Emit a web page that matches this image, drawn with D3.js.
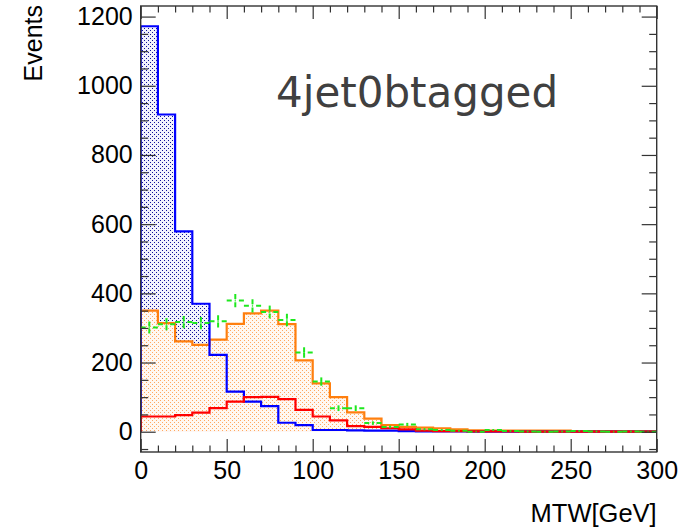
<!DOCTYPE html>
<html>
<head>
<meta charset="utf-8">
<script src="https://cdn.jsdelivr.net/npm/d3@7"></script>
<style>
  body { margin: 0; background: #fff; }
  svg { display: block; }
  text { font-family: "Liberation Sans", Arial, Helvetica, sans-serif; }
</style>
</head>
<body>
<svg id="chart" width="696" height="528"></svg>
<script>
// Lower edges of the 10 GeV MTW bins
const binLow = [0, 10, 20, 30, 40, 50, 60, 70, 80, 90,
                100, 110, 120, 130, 140, 150, 160, 170, 180, 190,
                200, 210, 220, 230, 240, 250, 260, 270, 280, 290];

// Blue filled histogram
const wjets = [1172, 917, 579, 370, 222, 116, 87, 74, 26, 19,
               5, 5, 4, 3, 3, 2, 1, 1, 1, 0.5,
               0.5, 0.5, 0.3, 0.3, 0.3, 0.2, 0.2, 0.2, 0.1, 0.1];
// Orange filled histogram
const ttbar = [350, 314, 261, 251, 266, 312, 342, 350, 311, 206,
               140, 100, 56, 38, 19, 14, 12, 10, 7, 4,
               3, 3, 3, 3, 3, 2, 2, 2, 2, 2];
// Red outline histogram
const singleTop = [44, 44, 48, 55, 68, 87, 100, 101, 94, 63,
                   44, 33, 16, 14, 10, 7, 3, 2, 1.5, 1,
                   1, 1, 0.5, 0.5, 0.5, 0.5, 0.3, 0.3, 0.3, 0.3];
// Green data points
const data = [301, 311, 317, 314, 319, 379, 364, 346, 323, 229,
              145, 68, 68, 25, 14, 21, 7, 5, 3, 0,
              5, 2, 1, 0, 1, 2, 1, 0, 1, 0];

const xTicks = [0, 50, 100, 150, 200, 250, 300];
const xMinorTicks = [10, 20, 30, 40, 60, 70, 80, 90, 110, 120, 130, 140, 160, 170, 180, 190,
                     210, 220, 230, 240, 260, 270, 280, 290];
const yTicks = [0, 200, 400, 600, 800, 1000, 1200];
const yMinorTicks = [-50, 50, 100, 150, 250, 300, 350, 450, 500, 550, 650, 700, 750,
                     850, 900, 950, 1050, 1100, 1150];

const xDomain = [0, 300];
const yDomain = [-58.6, 1230.6];

const plot = { left: 140.7, right: 656.7, top: 6, bottom: 452 };

const svg = d3.select("#chart");
const x = d3.scaleLinear(xDomain, [plot.left, plot.right]);
const y = d3.scaleLinear(yDomain, [plot.bottom, plot.top]);
const binWidth = binLow[1] - binLow[0];

const defs = svg.append("defs");
defs.append("clipPath").attr("id", "plotClip")
  .append("rect")
  .attr("x", plot.left).attr("y", plot.top)
  .attr("width", plot.right - plot.left).attr("height", plot.bottom - plot.top);

// Sparse dotted fill styles
function dotPattern(id, color, bg, dots) {
  const p = defs.append("pattern").attr("id", id)
    .attr("patternUnits", "userSpaceOnUse")
    .attr("width", 4).attr("height", 4);
  p.append("rect").attr("width", 4).attr("height", 4).attr("fill", bg);
  dots.forEach(([a, b]) =>
    p.append("rect").attr("x", a).attr("y", b).attr("width", 1).attr("height", 1).attr("fill", color));
}
dotPattern("dotsBlue", "#10109a", "#f2f2fd", [[0, 0], [2, 2]]);
dotPattern("dotsOrange", "#ffa860", "#fff8f2", [[0, 0], [2, 2]]);

function stepPoints(vals) {
  const pts = [[binLow[0], 0]];
  vals.forEach((v, i) => {
    pts.push([binLow[i], v]);
    pts.push([binLow[i] + binWidth, v]);
  });
  pts.push([binLow[binLow.length - 1] + binWidth, 0]);
  return pts;
}
const line = d3.line().x(d => x(d[0])).y(d => y(d[1]));

const g = svg.append("g").attr("clip-path", "url(#plotClip)");

// Fills
g.append("path").attr("d", line(stepPoints(wjets)) + "Z").attr("fill", "url(#dotsBlue)");
g.append("path").attr("d", line(stepPoints(ttbar)) + "Z").attr("fill", "url(#dotsOrange)");

// Outlines
[[ttbar, "#ff7f0e"], [wjets, "#0000ff"], [singleTop, "#ff0000"]].forEach(([vals, col]) => {
  g.append("path").attr("d", line(stepPoints(vals)))
    .attr("fill", "none").attr("stroke", col).attr("stroke-width", 2.2)
    .attr("stroke-linejoin", "miter");
});

// Data points with error bars
const pts = g.append("g").attr("stroke", "#1ee81e").attr("stroke-width", 2)
  .attr("stroke-dasharray", "5,3").attr("fill", "none");
data.forEach((v, i) => {
  const cx = x(binLow[i] + binWidth / 2);
  const cy = y(v);
  const err = Math.sqrt(v);
  pts.append("line").attr("x1", x(binLow[i])).attr("x2", cx).attr("y1", cy).attr("y2", cy);
  pts.append("line").attr("x1", x(binLow[i] + binWidth)).attr("x2", cx).attr("y1", cy).attr("y2", cy);
  if (err > 0) {
    pts.append("line").attr("x1", cx).attr("x2", cx).attr("y1", y(v + err)).attr("y2", cy);
    pts.append("line").attr("x1", cx).attr("x2", cx).attr("y1", y(v - err)).attr("y2", cy);
  }
});

// Axes (ticks pointing inward on all four sides)
const tickColor = "#333";
function styleAxis(sel) {
  sel.select(".domain").remove();
  sel.selectAll(".tick line").attr("stroke", tickColor).attr("stroke-width", 1.2);
  sel.selectAll(".tick text").attr("fill", "#000").style("font-size", "25px");
}
svg.append("g").attr("transform", `translate(0,${plot.bottom})`)
  .call(d3.axisBottom(x).tickValues(xTicks).tickSize(-13).tickPadding(9).tickFormat(d3.format("d")))
  .call(styleAxis);
svg.append("g").attr("transform", `translate(0,${plot.bottom})`)
  .call(d3.axisBottom(x).tickValues(xMinorTicks).tickSize(-6.5).tickFormat(""))
  .call(styleAxis);
svg.append("g").attr("transform", `translate(0,${plot.top})`)
  .call(d3.axisTop(x).tickValues(xTicks).tickSize(-13).tickFormat(""))
  .call(styleAxis);
svg.append("g").attr("transform", `translate(0,${plot.top})`)
  .call(d3.axisTop(x).tickValues(xMinorTicks).tickSize(-6.5).tickFormat(""))
  .call(styleAxis);
svg.append("g").attr("transform", `translate(${plot.left},0)`)
  .call(d3.axisLeft(y).tickValues(yTicks).tickSize(-15).tickPadding(8).tickFormat(d3.format("d")))
  .call(styleAxis);
svg.append("g").attr("transform", `translate(${plot.left},0)`)
  .call(d3.axisLeft(y).tickValues(yMinorTicks).tickSize(-7.5).tickFormat(""))
  .call(styleAxis);
svg.append("g").attr("transform", `translate(${plot.right},0)`)
  .call(d3.axisRight(y).tickValues(yTicks).tickSize(-15).tickFormat(""))
  .call(styleAxis);
svg.append("g").attr("transform", `translate(${plot.right},0)`)
  .call(d3.axisRight(y).tickValues(yMinorTicks).tickSize(-7.5).tickFormat(""))
  .call(styleAxis);

// Frame
svg.append("rect")
  .attr("x", plot.left).attr("y", plot.top)
  .attr("width", plot.right - plot.left).attr("height", plot.bottom - plot.top)
  .attr("fill", "none").attr("stroke", "#333").attr("stroke-width", 1.4);

// Axis titles
svg.append("text")
  .attr("transform", "translate(42,5) rotate(-90)")
  .attr("text-anchor", "end")
  .style("font-size", "25px")
  .text("Events");
svg.append("text")
  .attr("x", plot.right).attr("y", 522)
  .attr("text-anchor", "end")
  .style("font-size", "25.5px")
  .text("MTW[GeV]");

// Category label
svg.append("text")
  .attr("x", 276).attr("y", 107)
  .style("font-family", "'DejaVu Sans', Verdana, sans-serif")
  .style("font-size", "42px")
  .attr("fill", "#404040")
  .text("4jet0btagged");
</script>
</body>
</html>
